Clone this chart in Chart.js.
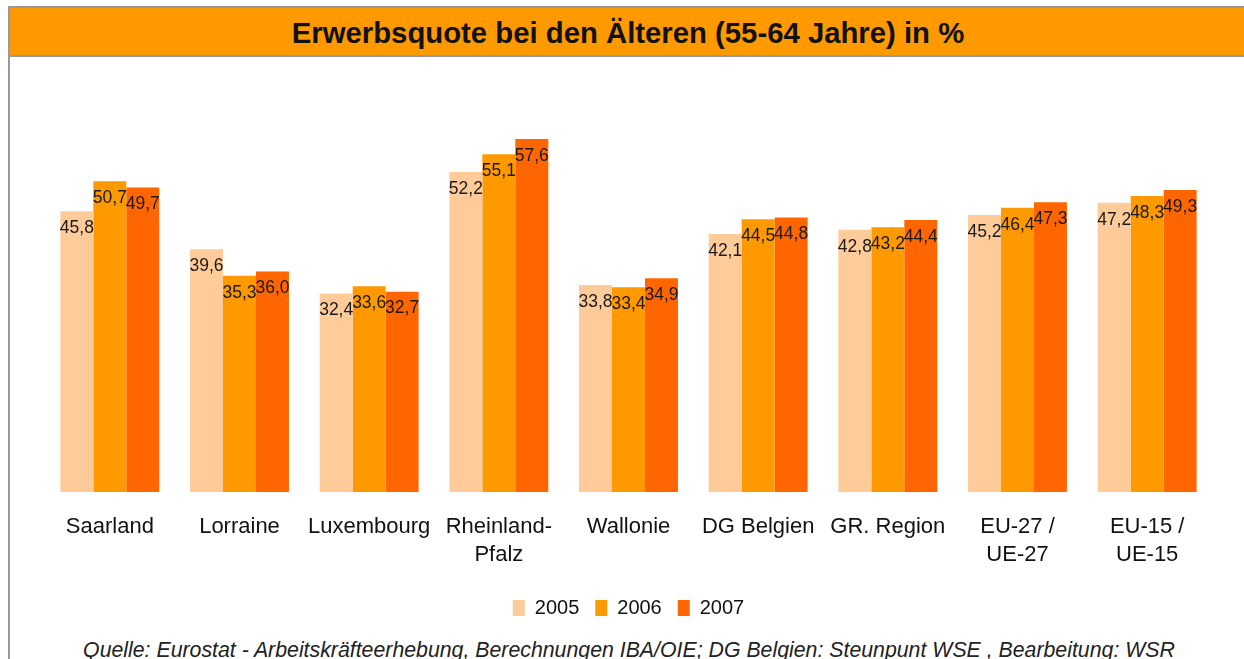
<!DOCTYPE html>
<html>
<head>
<meta charset="utf-8">
<title>Erwerbsquote bei den Älteren (55-64 Jahre) in %</title>
<script src="https://cdn.jsdelivr.net/npm/chart.js@4.4.1/dist/chart.umd.min.js"></script>
<style>
    html, body { margin: 0; padding: 0; background: #fff; overflow: hidden; }
    body { width: 1244px; height: 659px; position: relative; font-family: "Liberation Sans", Arial, sans-serif; }
    #frame {
        position: absolute; left: 8px; top: 6px; width: 1250px; height: 670px;
        border-left: 2px solid #999; border-top: 2px solid #999;
    }
    #title {
        height: 47px; line-height: 49px; background: #ff9900;
        border-bottom: 2px solid #999; text-align: center;
        font-weight: bold; font-size: 29.3px; color: #111;
        padding-right: 14px;
    }
    #chartBox { position: absolute; left: 10px; top: 57px; width: 1234px; height: 571px; }
    #source {
        position: absolute; left: 7px; width: 1244px; top: 638px; text-align: center;
        font-style: italic; font-size: 21.3px; color: #222; white-space: nowrap;
    }
</style>
</head>
<body>
<div id="frame"><div id="title">Erwerbsquote bei den Älteren (55-64 Jahre) in %</div></div>
<div id="chartBox"><canvas id="barChart"></canvas></div>
<div id="source">Quelle: Eurostat - Arbeitskräfteerhebung, Berechnungen IBA/OIE; DG Belgien: Steunpunt WSE , Bearbeitung: WSR</div>

<script>
// Regions shown on the x axis
const regions = [
    'Saarland', 'Lorraine', 'Luxembourg', ['Rheinland-', 'Pfalz'], 'Wallonie',
    'DG Belgien', 'GR. Region', ['EU-27 /', 'UE-27'], ['EU-15 /', 'UE-15']
];

// Activity rate of older people (55-64) per year
const rate2005 = [45.8, 39.6, 32.4, 52.2, 33.8, 42.1, 42.8, 45.2, 47.2];
const rate2006 = [50.7, 35.3, 33.6, 55.1, 33.4, 44.5, 43.2, 46.4, 48.3];
const rate2007 = [49.7, 36.0, 32.7, 57.6, 34.9, 44.8, 44.4, 47.3, 49.3];

const years = ['2005', '2006', '2007'];
const colors = ['#ffcc99', '#ff9900', '#ff6600'];

// Small plugin that writes the value (German decimal comma) inside the top of each bar
const valueLabels = {
    id: 'valueLabels',
    afterDatasetsDraw(chart) {
        const ctx = chart.ctx;
        ctx.save();
        ctx.font = '17.5px "Liberation Sans", Arial, sans-serif';
        ctx.fillStyle = '#1a1a1a';
        ctx.textAlign = 'center';
        ctx.textBaseline = 'middle';
        chart.data.datasets.forEach((ds, i) => {
            chart.getDatasetMeta(i).data.forEach((bar, j) => {
                const txt = ds.data[j].toFixed(1).replace('.', ',');
                ctx.fillText(txt, bar.x, bar.y + 17);
            });
        });
        ctx.restore();
    }
};

const ctx = document.getElementById('barChart').getContext('2d');
new Chart(ctx, {
    type: 'bar',
    data: {
        labels: regions,
        datasets: [
            { label: years[0], data: rate2005, backgroundColor: colors[0] },
            { label: years[1], data: rate2006, backgroundColor: colors[1] },
            { label: years[2], data: rate2007, backgroundColor: colors[2] }
        ]
    },
    options: {
        responsive: true,
        maintainAspectRatio: false,
        animation: false,
        layout: { padding: { left: 35, right: 32, top: 6, bottom: 0 } },
        datasets: { bar: { barPercentage: 1.0, categoryPercentage: 0.763 } },
        scales: {
            x: {
                grid: { display: false },
                border: { display: false },
                ticks: {
                    color: '#111',
                    padding: 13,
                    maxRotation: 0,
                    autoSkip: false,
                    font: { family: '"Liberation Sans", Arial, sans-serif', size: 22, lineHeight: 1.27 }
                }
            },
            y: {
                display: false,
                min: 0,
                max: 70
            }
        },
        plugins: {
            legend: {
                position: 'bottom',
                labels: {
                    boxWidth: 12,
                    boxHeight: 16,
                    padding: 16,
                    color: '#111',
                    font: { family: '"Liberation Sans", Arial, sans-serif', size: 20 }
                }
            },
            tooltip: { enabled: false }
        }
    },
    plugins: [valueLabels]
});
</script>
</body>
</html>
